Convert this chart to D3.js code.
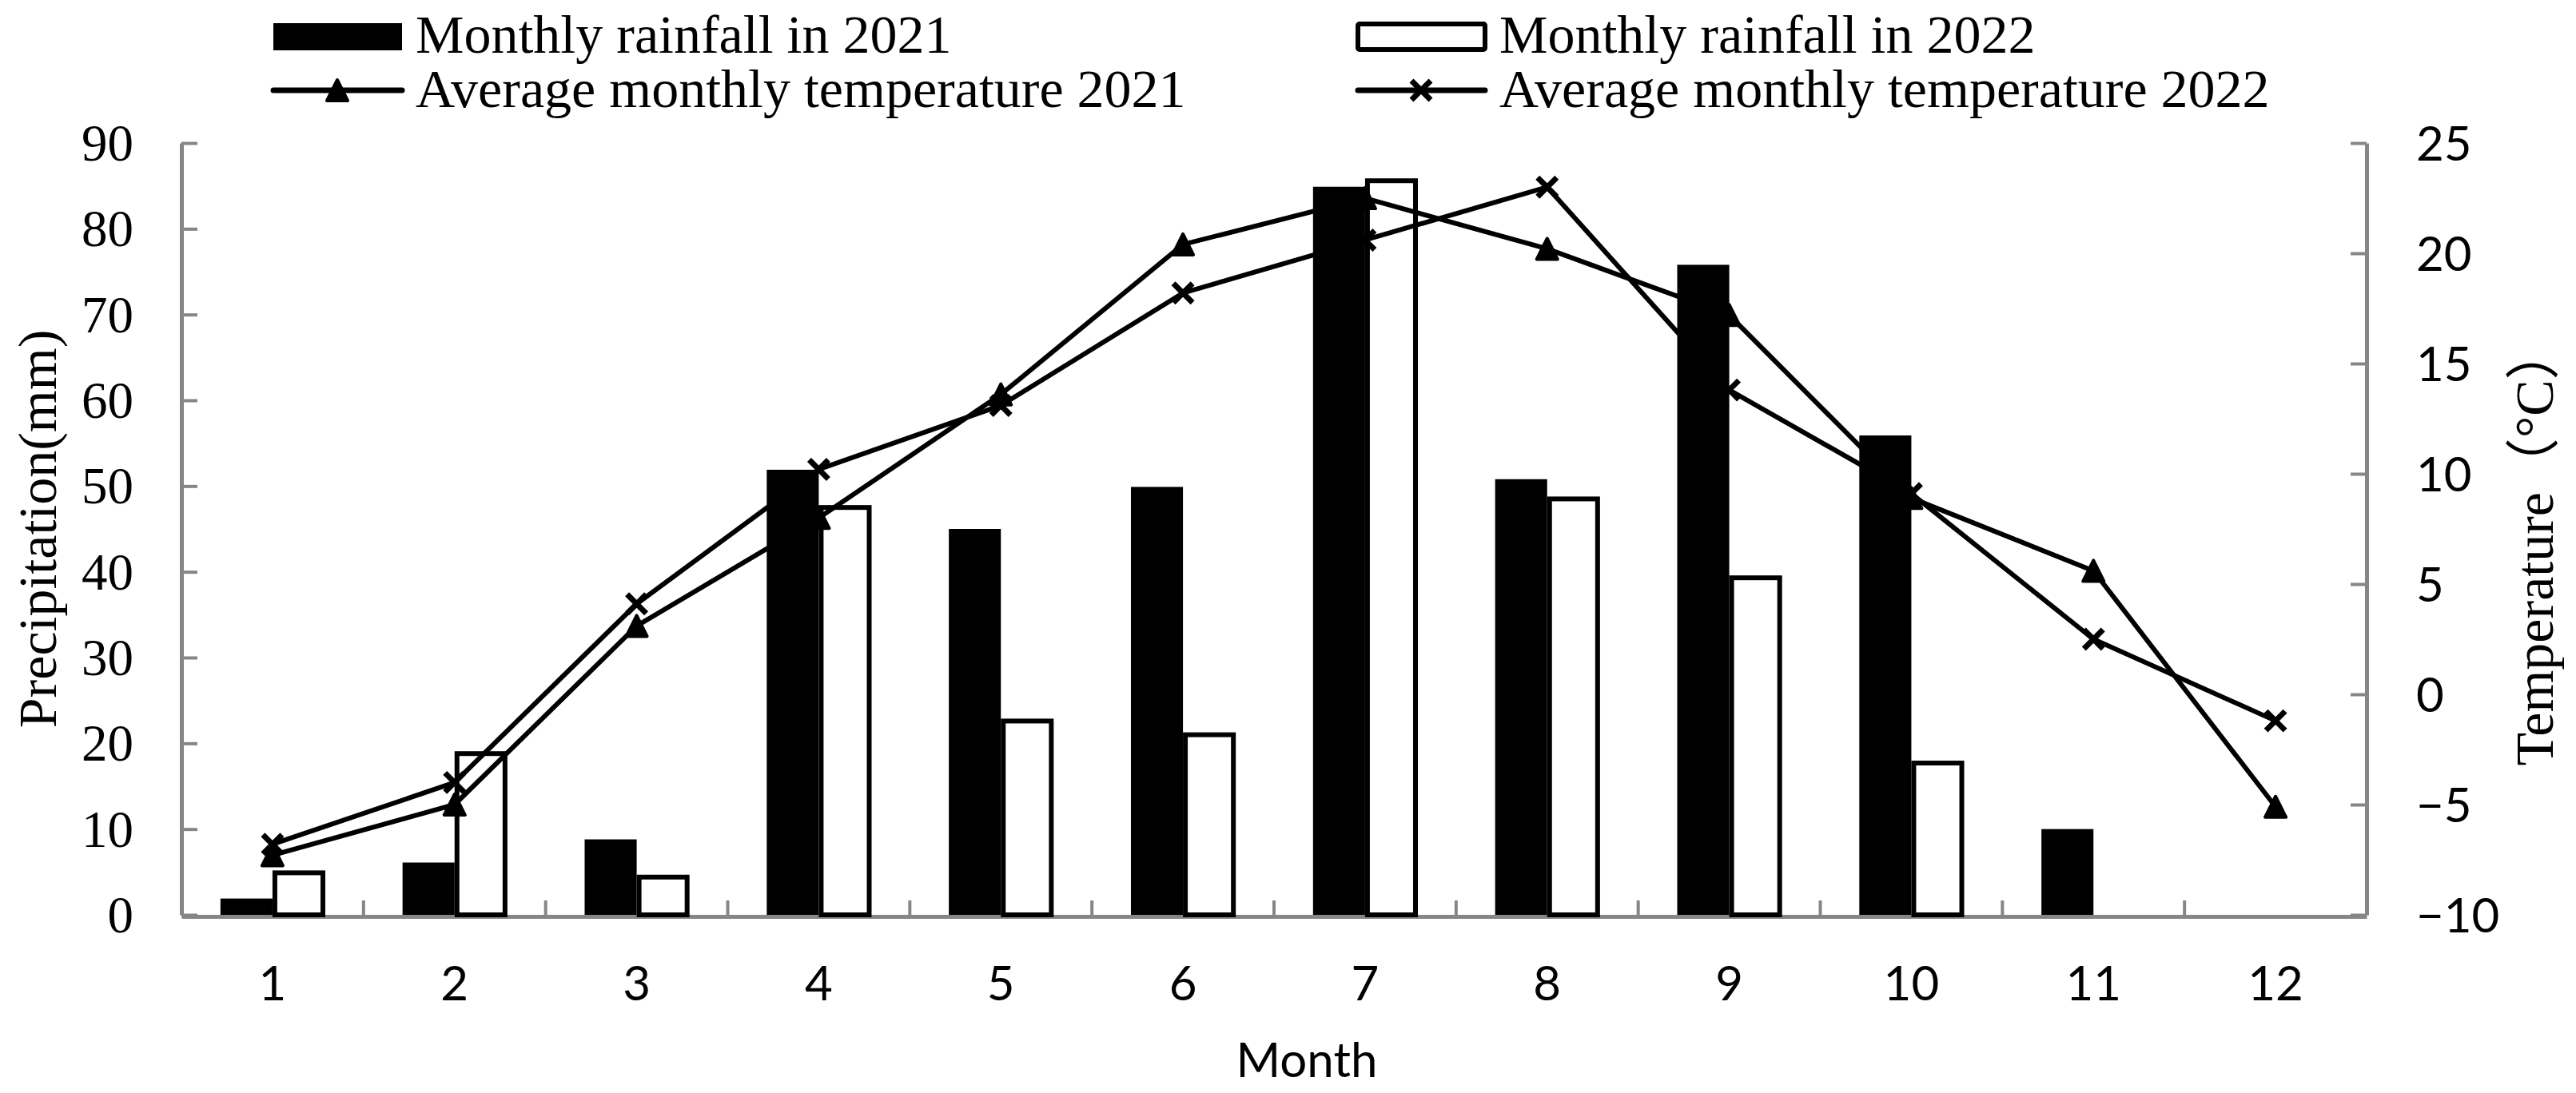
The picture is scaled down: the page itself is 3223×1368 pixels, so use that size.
<!DOCTYPE html>
<html>
<head>
<meta charset="utf-8">
<script src="https://cdn.jsdelivr.net/npm/d3@7"></script>
<style>
body { margin: 0; background: #fff; }
</style>
</head>
<body>
<script>
var months = [1, 2, 3, 4, 5, 6, 7, 8, 9, 10, 11, 12];
var rain2021 = [1.9, 6.1, 8.8, 51.9, 45.0, 49.9, 84.9, 50.8, 75.8, 55.9, 10.0, 0];
var rain2022 = [4.9, 18.8, 4.4, 47.5, 22.6, 21.0, 85.6, 48.5, 39.3, 17.7, 0, 0];
var temp2021 = [-7.3, -5.0, 3.1, 8.0, 13.6, 20.4, 22.5, 20.2, 17.2, 8.9, 5.6, -5.1];
var temp2022 = [-6.8, -4.0, 4.1, 10.2, 13.1, 18.2, 20.6, 23.0, 13.8, 9.1, 2.5, -1.2];
var leftTicks = [0, 10, 20, 30, 40, 50, 60, 70, 80, 90];
var rightTicks = [-10, -5, 0, 5, 10, 15, 20, 25];
var seriesNames = ["Monthly rainfall in 2021", "Monthly rainfall in 2022",
    "Average monthly temperature 2021", "Average monthly temperature 2022"];

var W = 3223, H = 1368;
var serif = "'Liberation Serif', 'Times New Roman', serif";
var sans = "Lato, 'Liberation Sans', sans-serif";
var axisGray = "#868686";

var svg = d3.select("body").append("svg")
    .attr("width", W)
    .attr("height", H);

// Plot box
var plotLeft = 227, plotRight = 2961, plotTop = 179, plotBottom = 1145;

var x = d3.scaleBand().domain(months).range([plotLeft, plotRight]);
var yL = d3.scaleLinear().domain([0, 90]).range([plotBottom, plotTop]);
var yR = d3.scaleLinear().domain([-10, 25]).range([plotBottom, plotTop]);
var bw = x.bandwidth() / 3.5;
function cx(m){ return x(m) + x.bandwidth() / 2; }

// Left axis
var gL = svg.append("g")
    .attr("transform", "translate(" + plotLeft + ",0)")
    .call(d3.axisLeft(yL).tickValues(leftTicks).tickSize(-20).tickSizeOuter(0).tickPadding(60));
gL.selectAll("text").attr("font-family", serif).attr("font-size", 65).attr("fill", "#000").attr("dy", "0.33em");

// Right axis
var gR = svg.append("g")
    .attr("transform", "translate(" + plotRight + ",0)")
    .call(d3.axisRight(yR).tickValues(rightTicks).tickSize(-20).tickSizeOuter(0).tickPadding(62));
gR.selectAll("text").attr("font-family", sans).attr("font-size", 60).attr("fill", "#000").attr("dy", "0.36em");

// Bottom axis
var gB = svg.append("g")
    .attr("transform", "translate(0," + (plotBottom + 2) + ")")
    .call(d3.axisBottom(x).tickSize(0).tickSizeOuter(0));
gB.selectAll("text").attr("font-family", sans).attr("font-size", 60).attr("fill", "#000")
    .attr("y", 105).attr("dy", 0);

// Category boundary ticks
svg.append("g").selectAll("line")
    .data(months.slice(1))
    .enter().append("line")
    .attr("x1", function(m){ return x(m); })
    .attr("x2", function(m){ return x(m); })
    .attr("y1", plotBottom + 2)
    .attr("y2", plotBottom - 18)
    .attr("stroke", axisGray)
    .attr("stroke-width", 4);

svg.selectAll(".domain").attr("stroke", axisGray).attr("stroke-width", 5);
svg.selectAll(".tick line").attr("stroke", axisGray).attr("stroke-width", 4);

// Bars 2021
svg.append("g").selectAll("rect")
    .data(months)
    .enter().append("rect")
    .attr("x", function(m){ return cx(m) - bw; })
    .attr("y", function(m, i){ return yL(rain2021[i]); })
    .attr("width", bw)
    .attr("height", function(m, i){ return plotBottom - yL(rain2021[i]); })
    .attr("fill", "#000");

// Bars 2022
svg.append("g").selectAll("rect")
    .data(months.filter(function(m, i){ return rain2022[i] > 0; }))
    .enter().append("rect")
    .attr("x", function(m){ return cx(m) + 3; })
    .attr("y", function(m){ return yL(rain2022[m - 1]); })
    .attr("width", bw - 5)
    .attr("height", function(m){ return plotBottom - yL(rain2022[m - 1]); })
    .attr("fill", "#fff")
    .attr("stroke", "#000")
    .attr("stroke-width", 6);

// Temperature lines
var line = d3.line()
    .x(function(d){ return cx(d.m); })
    .y(function(d){ return yR(d.t); });

function series(vals){
    return months.map(function(m, i){ return {m: m, t: vals[i]}; });
}

svg.append("path")
    .attr("d", line(series(temp2021)))
    .attr("fill", "none").attr("stroke", "#000").attr("stroke-width", 6);
svg.append("path")
    .attr("d", line(series(temp2022)))
    .attr("fill", "none").attr("stroke", "#000").attr("stroke-width", 6);

function drawTriangle(px, py){
    var h = 13;
    svg.append("path")
        .attr("d", "M" + px + "," + (py - h) + "L" + (px + h) + "," + (py + h) +
                   "L" + (px - h) + "," + (py + h) + "Z")
        .attr("fill", "#000")
        .attr("stroke", "#000").attr("stroke-width", 4).attr("stroke-linejoin", "round");
}

function drawCross(px, py){
    var s = 12;
    svg.append("path")
        .attr("d", "M" + (px - s) + "," + (py - s) + "L" + (px + s) + "," + (py + s) +
                   "M" + (px - s) + "," + (py + s) + "L" + (px + s) + "," + (py - s))
        .attr("stroke", "#000").attr("stroke-width", 7).attr("fill", "none");
}

series(temp2021).forEach(function(d){ drawTriangle(cx(d.m), yR(d.t)); });
series(temp2022).forEach(function(d){ drawCross(cx(d.m), yR(d.t)); });

// Axis titles
svg.append("text")
    .attr("transform", "translate(70,662) rotate(-90)")
    .attr("text-anchor", "middle")
    .attr("font-family", serif).attr("font-size", 68)
    .text("Precipitation(mm)");

svg.append("text")
    .attr("transform", "translate(3194,683) rotate(-90)")
    .attr("text-anchor", "middle")
    .attr("font-family", serif + ", 'Noto Sans CJK SC'").attr("font-size", 68)
    .text("Temperature（°C）");

svg.append("text")
    .attr("x", 1635).attr("y", 1348)
    .attr("text-anchor", "middle")
    .attr("font-family", sans).attr("font-size", 60)
    .text("Month");

// Legend
svg.append("rect").attr("x", 342).attr("y", 29).attr("width", 161).attr("height", 34).attr("fill", "#000");
svg.append("rect").attr("x", 1699).attr("y", 30).attr("width", 159).attr("height", 32)
    .attr("fill", "#fff").attr("stroke", "#000").attr("stroke-width", 6).attr("rx", 2);

svg.append("line").attr("x1", 342).attr("x2", 503).attr("y1", 113).attr("y2", 113)
    .attr("stroke", "#000").attr("stroke-width", 7).attr("stroke-linecap", "round");
drawTriangle(422, 113);
svg.append("line").attr("x1", 1699).attr("x2", 1858).attr("y1", 113).attr("y2", 113)
    .attr("stroke", "#000").attr("stroke-width", 7).attr("stroke-linecap", "round");
drawCross(1778, 113);

var legendPos = [[520, 66], [1876, 66], [520, 134], [1876, 134]];
seriesNames.forEach(function(name, i){
    svg.append("text")
        .attr("x", legendPos[i][0]).attr("y", legendPos[i][1])
        .attr("font-family", serif).attr("font-size", 68)
        .text(name);
});
</script>
</body>
</html>
